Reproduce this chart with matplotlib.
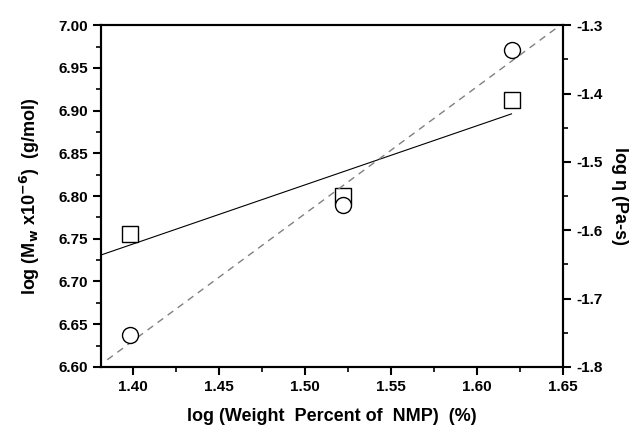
import numpy as np
import matplotlib
matplotlib.use('Agg')
import matplotlib.pyplot as plt
from matplotlib.ticker import MultipleLocator

plt.rcParams['font.family'] = ['Liberation Sans', 'DejaVu Sans']
plt.rcParams['font.weight'] = 'bold'
plt.rcParams['mathtext.default'] = 'bf'

log_nmp = [1.398, 1.522, 1.620]
log_mw = [6.755, 6.800, 6.912]
log_eta = [-1.753, -1.563, -1.337]

fig = plt.figure(figsize=(6.37, 4.42), dpi=100)
ax = fig.add_axes([0.159, 0.170, 0.725, 0.773])
ax2 = ax.twinx()

# linear fits
k1, b1 = np.polyfit(log_nmp, log_mw, 1)
xs1 = np.array([1.3815, 1.62])
ax.plot(xs1, k1 * xs1 + b1, color='black', lw=0.8)
ax.plot(log_nmp, log_mw, 's', ms=11, mfc='white', mec='black', mew=1.0)

k2, b2 = np.polyfit(log_nmp, log_eta, 1)
xs2 = np.array([1.385, 1.65])
ax2.plot(xs2, k2 * xs2 + b2, color='gray', lw=1.0, ls=(0, (5, 4)))
ax2.plot(log_nmp, log_eta, 'o', ms=11.5, mfc='white', mec='black', mew=1.0)

ax.set_xlim(1.3815, 1.65)
ax.set_ylim(6.60, 7.00)
ax2.set_ylim(-1.8, -1.3)

ax.xaxis.set_major_locator(MultipleLocator(0.05))
ax.xaxis.set_minor_locator(MultipleLocator(0.025))
ax.yaxis.set_major_locator(MultipleLocator(0.05))
ax.yaxis.set_minor_locator(MultipleLocator(0.025))
ax2.yaxis.set_major_locator(MultipleLocator(0.1))
ax2.yaxis.set_minor_locator(MultipleLocator(0.05))
ax.xaxis.set_major_formatter(plt.FormatStrFormatter('%.2f'))
ax.yaxis.set_major_formatter(plt.FormatStrFormatter('%.2f'))
ax2.yaxis.set_major_formatter(plt.FormatStrFormatter('%.1f'))

for a in (ax, ax2):
    a.tick_params(which='major', length=6, width=1.5, labelsize=11, direction='out')
    a.tick_params(which='minor', length=3.5, width=1.2, direction='out')
    for s in a.spines.values():
        s.set_linewidth(1.5)

ax.set_xlabel('log (Weight  Percent of  NMP)  (%)', fontsize=13, fontweight='bold', labelpad=10)
ax.set_ylabel(r'log (M$_w$ x10$^{-6}$)  (g/mol)', fontsize=13, fontweight='bold', labelpad=12)
ax2.set_ylabel('log η (Pa-s)', fontsize=13, fontweight='bold', rotation=270, labelpad=18)

plt.savefig('out.png', dpi=100)
